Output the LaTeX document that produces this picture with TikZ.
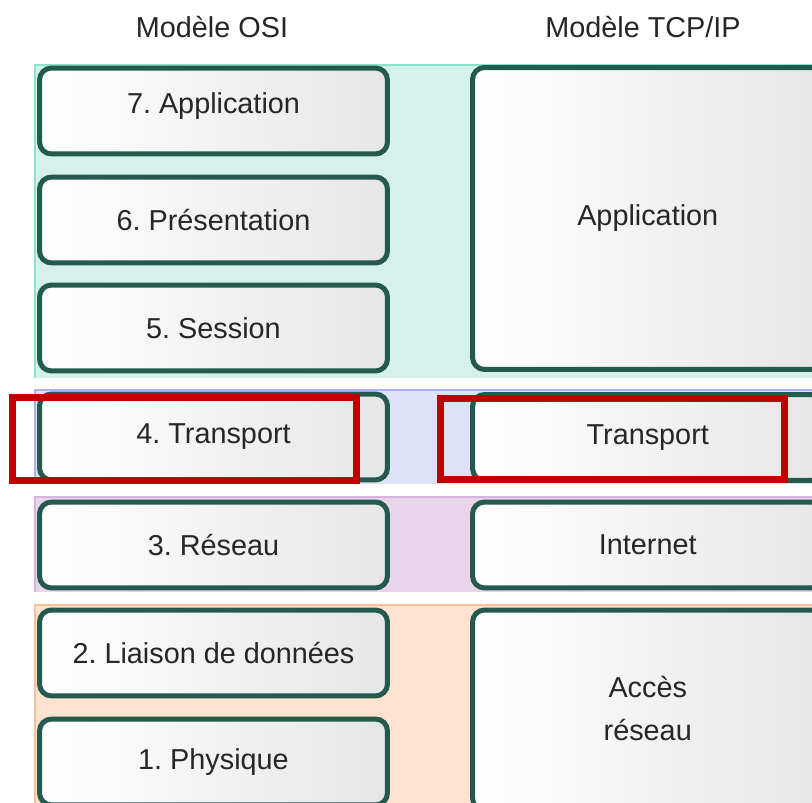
\documentclass[tikz,border=0pt]{standalone}
\usepackage{fontspec}
\setmainfont{Liberation Sans}
\definecolor{band1}{RGB}{214,240,234}
\definecolor{band1line}{RGB}{140,226,204}
\definecolor{band2}{RGB}{223,225,246}
\definecolor{band2line}{RGB}{176,176,236}
\definecolor{band3}{RGB}{232,213,235}
\definecolor{band3line}{RGB}{214,180,222}
\definecolor{band4}{RGB}{253,226,207}
\definecolor{band4line}{RGB}{250,190,150}
\definecolor{boxgreen}{RGB}{36,90,78}
\definecolor{boxgray}{RGB}{230,230,230}
\definecolor{textgray}{RGB}{38,38,38}
\definecolor{hired}{RGB}{192,0,0}
\frenchspacing

\begin{document}
\begin{tikzpicture}[x=0.02cm,y=-0.02cm,
  layer/.style={draw=boxgreen, line width=0.1cm, rounded corners=0.24cm,
    left color=white, right color=boxgray, text=textgray, align=center,
    font=\fontsize{16.4}{24.5}\selectfont, inner sep=0pt},
  osi/.style={layer, minimum width=6.96cm, minimum height=1.72cm},
  tcp/.style={layer, minimum width=7.01cm},
  title/.style={text=textgray, font=\fontsize{16.4}{20}\selectfont},
  highlight/.style={draw=hired, line width=0.14cm}]
\useasboundingbox (0,0) rectangle (812,803);
\clip (0,0) rectangle (812,803);
% colour bands behind the layers
\fill[band1] (35,65) rectangle (830,378);
\draw[band1line, thick] (35,378) -- (35,65) -- (830,65);
\fill[band2] (35,390) rectangle (830,484);
\draw[band2line, thick] (35,484) -- (35,390) -- (830,390);
\fill[band3] (35,497) rectangle (830,592);
\draw[band3line, thick] (35,592) -- (35,497) -- (830,497);
\fill[band4] (35,605) rectangle (830,820);
\draw[band4line, thick] (35,820) -- (35,605) -- (830,605);
% titles
\node[title] (osititle) at (212,27) {Modèle OSI};
\node[title] (tcptitle) at (643,27) {Modèle TCP/IP};
% OSI model
\node[osi] (osi7) at (213.5,111) {\raisebox{0.3cm}{7. Application}};
\node[osi] (osi6) at (213.5,220) {6. Présentation};
\node[osi] (osi5) at (213.5,328) {5. Session};
\node[osi] (osi4) at (213.5,437) {4. Transport};
\node[osi] (osi3) at (213.5,545) {3. Réseau};
\node[osi] (osi2) at (213.5,653) {2. Liaison de données};
\node[osi] (osi1) at (213.5,762) {1. Physique};
% TCP/IP model
\node[tcp, minimum height=6.04cm] (tcpapp) at (647.75,218.5) {Application};
\node[tcp, minimum height=1.72cm] (tcptrans) at (647.75,437.5) {Transport};
\node[tcp, minimum height=1.72cm] (tcpnet) at (647.75,545) {Internet};
\node[tcp, minimum height=4cm] (tcpacc) at (647.75,710) {\raisebox{0.06cm}{\begin{tabular}{c}Accès\\réseau\end{tabular}}};
% transport layers highlighted
\draw[highlight] (12.5,397.5) rectangle (356.5,480.5);
\draw[highlight] (440.5,398.5) rectangle (784.5,479.5);
\end{tikzpicture}
\end{document}
